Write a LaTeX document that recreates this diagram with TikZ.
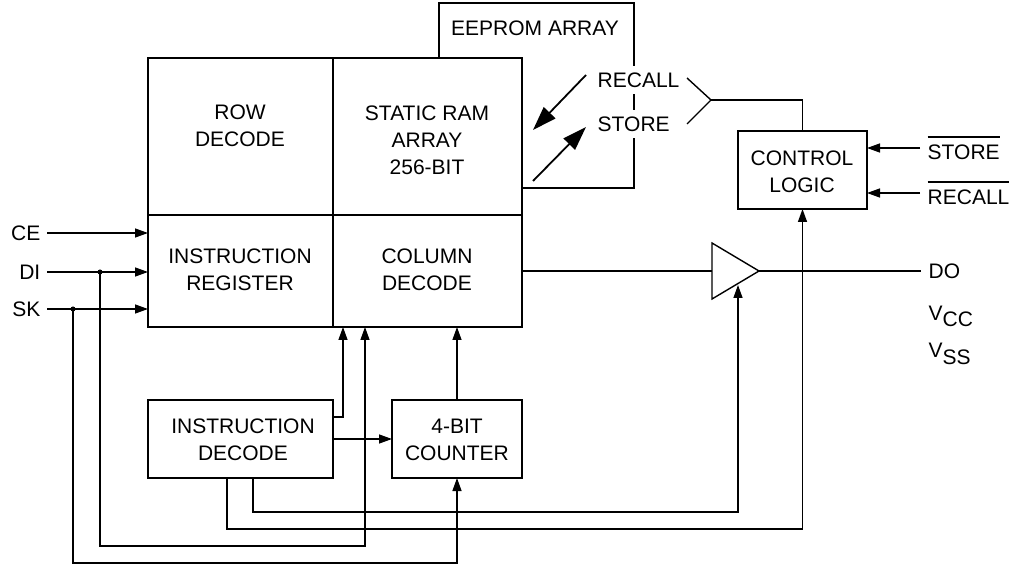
\documentclass[tikz,border=0pt]{standalone}
\usepackage{fontspec}
\setmainfont{Liberation Sans}
\usetikzlibrary{arrows.meta}
\newcommand\barred[1]{\leavevmode\vbox{\hrule height 1.2pt\kern 7pt\hbox{#1}}}
\begin{document}
\begin{tikzpicture}[x=1pt,y=-1pt, line width=1.4pt,
  box/.style={draw, rectangle, inner sep=0pt, outer sep=0pt, anchor=north west, fill=white},
  lbl/.style={font=\fontsize{21}{27}\selectfont, align=center, inner sep=0pt},
  pin/.style={font=\fontsize{21}{27}\selectfont, inner sep=0pt},
  arr/.style={-{Triangle[length=13pt,width=9pt]}},
  big/.style={-{Triangle[length=24pt,width=16pt]}, line width=1.8pt},
  dot/.style={circle, fill, inner sep=0pt, minimum size=5pt}]
\useasboundingbox (0,0) rectangle (1013,564);

% EEPROM array (behind)
\node[box, minimum width=195pt, minimum height=185pt] (eeprom) at (439,3) {};
\node[lbl] (eetxt) at (535,28) {EEPROM ARRAY};
\node[pin, fill=white, inner xsep=3pt, inner ysep=7pt, anchor=west] (recall) at (594,80) {RECALL};
\node[pin, fill=white, inner xsep=3pt, inner ysep=7pt, anchor=west] (store) at (594,124) {STORE};

% main block
\node[box, minimum width=185pt, minimum height=157pt] (rowdec) at (148,58) {};
\node[box, minimum width=189pt, minimum height=157pt] (sram) at (333,58) {};
\node[box, minimum width=185pt, minimum height=112pt] (ireg) at (148,215) {};
\node[box, minimum width=189pt, minimum height=112pt] (coldec) at (333,215) {};
\node[lbl] (t1) at (240,126) {ROW\\DECODE};
\node[lbl] (t2) at (427,140) {STATIC RAM\\ARRAY\\256-BIT};
\node[lbl] (t3) at (240,270) {INSTRUCTION\\REGISTER};
\node[lbl] (t4) at (427,270) {COLUMN\\DECODE};

% other blocks
\node[box, minimum width=129pt, minimum height=78pt] (ctrl) at (738,131) {};
\node[lbl] (t5) at (802,172) {CONTROL\\LOGIC};
\node[box, minimum width=185pt, minimum height=78pt] (idec) at (148,400) {};
\node[lbl] (t6) at (243,440) {INSTRUCTION\\DECODE};
\node[box, minimum width=130pt, minimum height=78pt] (cnt) at (392,400) {};
\node[lbl] (t7) at (457,440) {4-BIT\\COUNTER};

% buffer
\coordinate (bufin) at (712,271);
\coordinate (bufout) at (759,271);
\coordinate (bufen) at (738,285);
\draw (712,243) -- (bufout) -- (712,299) -- cycle;

% recall/store arrows
\coordinate (ra1) at (586,75); \coordinate (ra2) at (533,130);
\coordinate (sa1) at (533,181); \coordinate (sa2) at (586,127);
\draw[big] (ra1) -- (ra2);
\draw[big] (sa1) -- (sa2);
\coordinate (brA) at (687,78); \coordinate (brB) at (711,100); \coordinate (brC) at (687,124);
\draw (brA) -- (brB) -- (brC);
\draw (brB) -| (ctrl.north);

% pins
\node[pin, anchor=east] (ce) at (41,233) {CE};
\node[pin, anchor=east] (di) at (41,272) {DI};
\node[pin, anchor=east] (sk) at (41,309) {SK};
\coordinate (ce0) at (47,233);
\coordinate (di0) at (47,272);
\coordinate (sk0) at (47,309);
\draw[arr] (ce0) -- (ce0 -| ireg.west);
\draw[arr] (di0) -- (di0 -| ireg.west);
\draw[arr] (sk0) -- (sk0 -| ireg.west);
\coordinate (dij) at (100,272);
\coordinate (skj) at (73,309);
\node[dot] (dijd) at (dij) {};
\node[dot] (skjd) at (skj) {};
\coordinate (dic) at (365,327);
\draw[arr] (dij) |- (365,546) -- (dic);
\draw[arr] (skj) |- (cnt.south |- 0,563) -- (cnt.south);

\node[pin, anchor=west] (stb) at (927,148) {\barred{STORE}};
\node[pin, anchor=west] (rcb) at (927,193) {\barred{RECALL}};
\coordinate (stb0) at (920,148);
\coordinate (rcb0) at (920,193);
\draw[arr] (stb0) -- (stb0 -| ctrl.east);
\draw[arr] (rcb0) -- (rcb0 -| ctrl.east);

% internal connectors
\draw[arr] (idec.east |- 0,417) -| (343,327);
\draw[arr] (idec.east) -- (cnt.west);
\draw[arr] (cnt.north) -- (cnt.north |- coldec.south);
\draw[arr] (253,478) |- (738,512) -- (bufen);
\draw[arr] (227,478) |- (ctrl.south |- 0,529) -- (ctrl.south);
\draw (coldec.east) -- (bufin);
\coordinate (doend) at (921,271);
\draw (bufout) -- (doend);
\node[pin, anchor=west] (do) at (928,271) {DO};
\node[pin, anchor=base west] (vcc) at (928,320) {V\raisebox{-6pt}{CC}};
\node[pin, anchor=base west] (vss) at (928,358) {V\raisebox{-6pt}{SS}};
\end{tikzpicture}
\end{document}
